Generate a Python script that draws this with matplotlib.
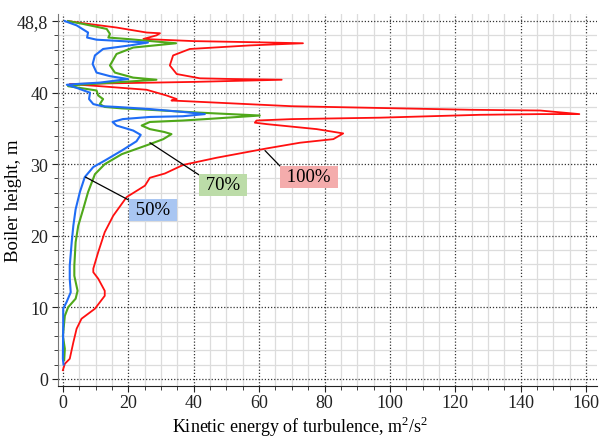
import matplotlib.pyplot as plt
from matplotlib.ticker import MultipleLocator, FixedLocator

plt.rcParams['font.family'] = ['Liberation Serif', 'DejaVu Serif']
plt.rcParams['mathtext.fontset'] = 'custom'
plt.rcParams['mathtext.rm'] = 'Liberation Serif'

# kinetic energy (m2/s2) and height (plot units, top gridline = 48.8 m) along each profile
k_50 = [0.6, 4.2, 7.7, 7.4, 10.3, 18, 26, 20.5, 12.3, 9.8, 9.1, 10.3, 14.4, 19.9, 11.3, 4, 1.2,
        4, 7.6, 8.3, 8.0, 9.3, 12, 16.4, 26.6, 36.8, 43.4, 36.7, 26.6, 18.3, 15.2, 16.4, 21.5,
        23.8, 22.5, 18, 12.8, 9.3, 6.7, 5.2, 3.9, 3.2, 2.7, 2.1, 2.1, 2.4, 1.1, 0.1, 0.1, 0, 0.2]
h_50 = [50, 49.4, 48.4, 47.7, 47.4, 47.2, 47.0, 46.6, 46.1, 45.2, 44.0, 42.8, 42.3, 41.9, 41.4, 41.2, 41.1,
        40.7, 40.1, 40.0, 39.1, 38.4, 38.1, 38.0, 37.7, 37.3, 37.0, 36.7, 36.6, 36.3, 35.9, 35.4, 34.7,
        34.1, 33.2, 31.9, 30.5, 29.6, 28.2, 26.1, 23.7, 21.4, 19.1, 15.8, 14.0, 12.1, 10.7, 9.8, 7.4, 2.8, 2.0]

k_70 = [1.6, 6.2, 13.4, 14.4, 13.9, 19.5, 27, 34.6, 21.5, 16.4, 14.4, 15.9, 21.5, 28.6, 15, 5, 1.6,
        6, 10.3, 10.8, 12.3, 11.3, 12.8, 18, 26.6, 41.9, 60.2, 47, 36.7, 26.6, 24.1, 26.6, 31,
        33.2, 30.7, 26.6, 18, 12.8, 9.8, 7.7, 6.2, 4.7, 3.9, 3.5, 3.5, 4.5, 3.9, 1.6, 0.6, 0, 0.6, 0.4]
h_70 = [50, 49.6, 48.9, 48.2, 47.7, 47.5, 47.2, 46.9, 46.3, 45.4, 43.8, 42.8, 42.1, 41.8, 41.4, 41.1, 40.9,
        40.6, 40.3, 39.6, 39.1, 38.4, 38.0, 37.8, 37.6, 37.2, 36.8, 36.4, 36.1, 35.9, 35.4, 34.9, 34.5,
        34.2, 33.5, 32.8, 31.4, 30.0, 28.6, 26.1, 23.7, 21.4, 19.1, 15.8, 14.4, 12.3, 11.2, 10.0, 8.8, 6.0, 4.2, 2.6]

k_100 = [1.6, 6.2, 16.4, 25.6, 29.7, 28.6, 24.6, 40, 58, 73.4, 57.2, 38.8, 33.7, 32.7, 34.8, 41.9, 52, 66.9,
         40, 15, 2.1, 11.3, 25.6, 31.7, 34.8, 33.2, 47, 70, 103, 125, 145.9, 157.9, 145.9, 127.5, 97,
         70, 59.2, 58.7, 62.3, 77.6, 85.7, 82.7, 72.5, 62.3, 47, 36.8, 31.2, 26.6, 25.1, 19.5, 15.4,
         12.8, 10.8, 9.3, 9.3, 10.8, 12.8, 12.8, 9.8, 5.7, 4.2, 3.2, 2.1, 0.6, 0]
h_100 = [50, 49.7, 49.1, 48.4, 48.3, 48.0, 47.5, 47.2, 47.05, 46.9, 46.6, 46.1, 45.2, 43.8, 42.6, 42.0, 41.9, 41.8,
         41.5, 41.3, 41.2, 40.9, 40.4, 39.6, 39.1, 38.9, 38.6, 38.1, 37.8, 37.6, 37.5, 37.0, 37.0, 36.9, 36.5,
         36.3, 36.1, 35.8, 35.6, 34.9, 34.3, 33.5, 33.0, 32.2, 30.9, 29.9, 28.7, 28.1, 27.0, 25.4, 22.8,
         20.5, 17.7, 15.4, 14.9, 14.0, 12.3, 11.6, 9.8, 8.4, 7.0, 5.1, 2.8, 2.1, 1.2]

y_ticks = [0, 10, 20, 30, 40, 50]
y_labels = ['0', '10', '20', '30', '40', '48,8']

fig = plt.figure(figsize=(6.07, 4.39), dpi=100)
ax = fig.add_axes([0.0955, 0.1185, 0.888, 0.8475])

ax.plot(k_100, h_100, color='#ff1010', lw=1.3, zorder=3)
ax.plot(k_70, h_70, color='#4fa81a', lw=1.5, zorder=4)
ax.plot(k_50, h_50, color='#1f6cf5', lw=1.5, zorder=5)

ax.set_xlim(-1.5, 163.3)
ax.set_ylim(-1.0, 51.0)
ax.xaxis.set_major_locator(MultipleLocator(20))
ax.xaxis.set_minor_locator(MultipleLocator(5))
ax.yaxis.set_major_locator(FixedLocator(y_ticks))
ax.yaxis.set_minor_locator(MultipleLocator(2))
ax.set_yticklabels(y_labels)

ax.grid(which='minor', color='#dcdcdc', lw=0.9, ls='-')
ax.grid(which='major', color='#333333', lw=0.9, ls=(0, (1, 1.5)))
ax.set_axisbelow(True)

for s in ['top', 'right']:
    ax.spines[s].set_visible(False)
ax.spines['left'].set_color('#777777')
ax.spines['bottom'].set_color('#222222')
ax.tick_params(which='both', direction='out', labelsize=13, colors='#222222')
ax.tick_params(which='major', length=4)
ax.tick_params(which='minor', length=3)
ax.tick_params(axis='y', pad=3)
ax.tick_params(axis='x', pad=1.5)

ax.set_xlabel(r'Kinetic energy of turbulence, m$^{\mathrm{2}}$/s$^{\mathrm{2}}$', fontsize=13)
ax.set_ylabel('Boiler height, m', fontsize=13.5)
ax.xaxis.set_label_coords(0.45, -0.076)
ax.yaxis.set_label_coords(-0.082, 0.5)
ax.yaxis.label.set_va('center')

# curve labels
labels = [' 50% ', ' 70% ', ' 100% ']
label_pts = [(6.9, 28.2), (26.6, 33.0), (61.8, 31.9)]
label_pos = [(20.9, 24.8), (42.3, 28.3), (67.1, 29.4)]
label_bg = ['#a9c6f2', '#bcdca8', '#f4acac']
for txt, pt, pos, bg in zip(labels, label_pts, label_pos, label_bg):
    ax.annotate(txt, xy=pt, xytext=pos, fontsize=13.5, ha='left', va='top',
                bbox=dict(boxstyle='square,pad=0.12', fc=bg, ec='none'),
                arrowprops=dict(arrowstyle='-', color='black', lw=0.9,
                                relpos=(0, 1), shrinkA=0, shrinkB=0),
                zorder=6)

plt.savefig('out.png', dpi=100)
